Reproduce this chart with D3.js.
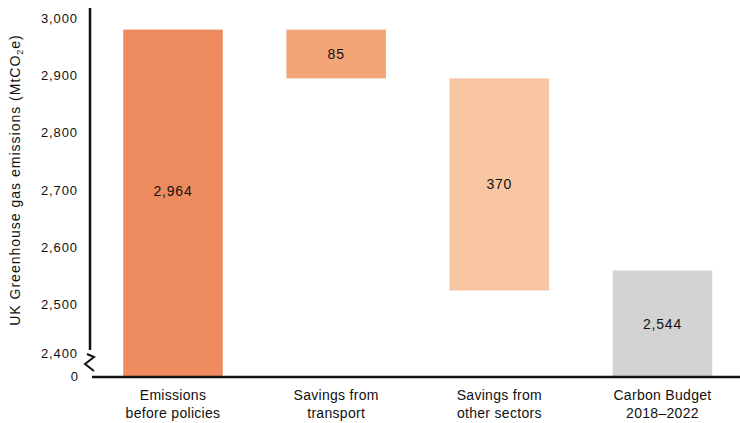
<!DOCTYPE html>
<html>
<head>
<meta charset="utf-8">
<script src="https://cdn.jsdelivr.net/npm/d3@7"></script>
<style>
  html, body { margin: 0; padding: 0; background: #fff; }
  svg { display: block; font-family: 'Liberation Sans', Arial, sans-serif; }
</style>
</head>
<body>
<svg id="chart"></svg>
<script>
'use strict'

const d3 = window.d3
const width = 740
const height = 423

const categories = ['Emissions before policies', 'Savings from transport', 'Savings from other sectors', 'Carbon Budget 2018–2022']
const categoryLines = [
  ['Emissions', 'before policies'],
  ['Savings from', 'transport'],
  ['Savings from', 'other sectors'],
  ['Carbon Budget', '2018\u20132022']
]
const values = [2964, -85, -370, 2544]
const isTotal = [true, false, false, true]
const barLabels = ['2,964', '85', '370', '2,544']
const colors = ['#EE8B5E', '#F4A577', '#F9C6A4', '#D3D3D3']
const yTicks = [2400, 2500, 2600, 2700, 2800, 2900, 3000]

const baseY = 377
const axisX = 90

const svg = d3.select('#chart').attr('width', width).attr('height', height)

const x = d3.scaleBand()
  .domain(categories)
  .range([95.5, 740])
  .paddingInner(0.39)
  .paddingOuter(0.17)

const y = d3.scaleLinear().domain([2400, 3000]).range([353, 9])
const yPos = (v) => v === 0 ? baseY : y(v)

// waterfall: totals start at zero, deltas hang off the running total
let running = 0
const bars = values.map((v, i) => {
  let start, end
  if (isTotal[i]) {
    start = 0
    end = v
  } else {
    start = running
    end = running + v
  }
  running = end
  return { cat: categories[i], start, end, label: barLabels[i], color: colors[i], lines: categoryLines[i] }
})

const barG = svg.append('g')
barG.selectAll('rect')
  .data(bars)
  .enter()
  .append('rect')
  .attr('x', (d) => x(d.cat))
  .attr('width', x.bandwidth())
  .attr('y', (d) => Math.min(yPos(d.start), yPos(d.end)))
  .attr('height', (d) => Math.abs(yPos(d.start) - yPos(d.end)))
  .attr('fill', (d) => d.color)

// label sits in the middle of the bar; very tall bars centre over the scaled part only
const labelY = (d) => {
  const top = yPos(d.end)
  let bottom = yPos(d.start)
  if (d.start === 0 && bottom - top > 200) bottom = y(2400)
  return (top + bottom) / 2
}

barG.selectAll('text')
  .data(bars)
  .enter()
  .append('text')
  .attr('x', (d) => x(d.cat) + x.bandwidth() / 2)
  .attr('y', labelY)
  .attr('dy', '0.35em')
  .attr('text-anchor', 'middle')
  .style('font-size', '14px')
  .style('letter-spacing', '0.8px')
  .style('fill', '#111')
  .text((d) => d.label)

// y axis
const yAxis = d3.axisLeft(y)
  .tickValues(yTicks)
  .tickSize(0)
  .tickPadding(12)
  .tickFormat(d3.format(','))

const yg = svg.append('g')
  .attr('transform', `translate(${axisX},0)`)
  .call(yAxis)

yg.select('.domain').remove()
yg.selectAll('text')
  .attr('dy', (d) => d === 2400 ? '0.32em' : '1.0em')
  .style('font-size', '13px')
  .style('letter-spacing', '0.9px')
  .style('fill', '#111')
  .style('font-family', "'Liberation Sans', Arial, sans-serif")

svg.append('line')
  .attr('x1', axisX).attr('x2', axisX)
  .attr('y1', y(3000) - 1).attr('y2', 350)
  .attr('stroke', '#111')
  .attr('stroke-width', 2.5)

// axis break
svg.append('path')
  .attr('d', 'M87,354 L94,357 L85,364 L94,371')
  .attr('fill', 'none')
  .attr('stroke', '#111')
  .attr('stroke-width', 2)

svg.append('text')
  .attr('x', axisX - 12)
  .attr('y', baseY)
  .attr('dy', '0.32em')
  .attr('text-anchor', 'end')
  .style('font-size', '13px')
  .style('fill', '#111')
  .text('0')

// x axis baseline and category labels
svg.append('line')
  .attr('x1', 92).attr('x2', width)
  .attr('y1', baseY).attr('y2', baseY)
  .attr('stroke', '#111')
  .attr('stroke-width', 2.5)

const catG = svg.append('g')
catG.selectAll('text')
  .data(bars)
  .enter()
  .append('text')
  .attr('x', (d) => x(d.cat) + x.bandwidth() / 2)
  .attr('y', 395)
  .attr('text-anchor', 'middle')
  .style('font-size', '14px')
  .style('letter-spacing', '0.3px')
  .style('fill', '#111')
  .each(function (d) {
    const t = d3.select(this)
    d.lines.forEach((line, i) => {
      t.append('tspan')
        .attr('x', x(d.cat) + x.bandwidth() / 2)
        .attr('dy', i === 0 ? '0.35em' : '18px')
        .text(line)
    })
  })

// y axis title
const title = svg.append('text')
  .attr('transform', 'translate(15,180) rotate(-90)')
  .attr('dy', '0.35em')
  .attr('text-anchor', 'middle')
  .style('font-size', '14px')
  .style('letter-spacing', '1px')
  .style('fill', '#111')
title.append('tspan').text('UK Greenhouse gas emissions (MtCO')
title.append('tspan').attr('dy', '3px').style('font-size', '9px').text('2')
title.append('tspan').attr('dy', '-3px').text('e)')
</script>
</body>
</html>
